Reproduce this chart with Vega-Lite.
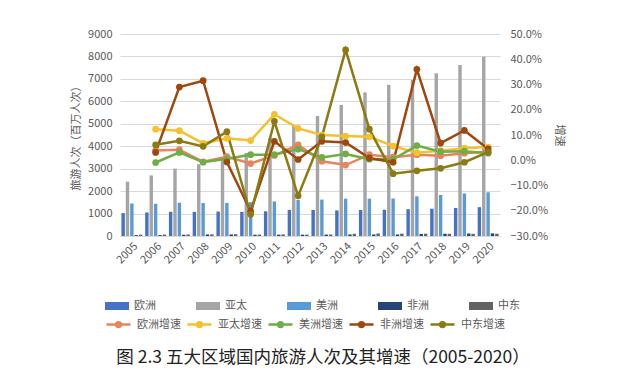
{
  "$schema": "https://vega.github.io/schema/vega-lite/v6.json",
  "width": 380,
  "height": 202,
  "autosize": {"type": "none"},
  "padding": {"left": 120, "top": 34, "right": 140, "bottom": 153},
  "background": "white",
  "config": {
    "font": "Noto Sans CJK SC",
    "view": {"stroke": null},
    "axis": {
      "labelColor": "#595959",
      "titleColor": "#595959",
      "labelFontSize": 11,
      "titleFontSize": 11,
      "titleFontWeight": "normal",
      "ticks": false,
      "domain": false,
      "gridColor": "#D9D9D9"
    },
    "legend": {
      "labelColor": "#595959",
      "labelFontSize": 11
    }
  },
  "title": {
    "text": "图 2.3  五大区域国内旅游人次及其增速（2005-2020）",
    "orient": "bottom",
    "anchor": "middle",
    "fontSize": 17.5,
    "fontWeight": "normal",
    "color": "#222222",
    "offset": 17,
    "dx": 13
  },
  "datasets": {
    "bars": [
      {"year": "2005", "region": "欧洲", "value": 1020}, {"year": "2005", "region": "亚太", "value": 2420}, {"year": "2005", "region": "美洲", "value": 1450}, {"year": "2005", "region": "非洲", "value": 40}, {"year": "2005", "region": "中东", "value": 60},
      {"year": "2006", "region": "欧洲", "value": 1050}, {"year": "2006", "region": "亚太", "value": 2700}, {"year": "2006", "region": "美洲", "value": 1436}, {"year": "2006", "region": "非洲", "value": 41}, {"year": "2006", "region": "中东", "value": 64},
      {"year": "2007", "region": "欧洲", "value": 1080}, {"year": "2007", "region": "亚太", "value": 3000}, {"year": "2007", "region": "美洲", "value": 1480}, {"year": "2007", "region": "非洲", "value": 53}, {"year": "2007", "region": "中东", "value": 69},
      {"year": "2008", "region": "欧洲", "value": 1075}, {"year": "2008", "region": "亚太", "value": 3200}, {"year": "2008", "region": "美洲", "value": 1468}, {"year": "2008", "region": "非洲", "value": 70}, {"year": "2008", "region": "中东", "value": 72},
      {"year": "2009", "region": "欧洲", "value": 1090}, {"year": "2009", "region": "亚太", "value": 3450}, {"year": "2009", "region": "美洲", "value": 1474}, {"year": "2009", "region": "非洲", "value": 70}, {"year": "2009", "region": "中东", "value": 80},
      {"year": "2010", "region": "欧洲", "value": 1077}, {"year": "2010", "region": "亚太", "value": 3700}, {"year": "2010", "region": "美洲", "value": 1507}, {"year": "2010", "region": "非洲", "value": 56}, {"year": "2010", "region": "中东", "value": 63},
      {"year": "2011", "region": "欧洲", "value": 1100}, {"year": "2011", "region": "亚太", "value": 4370}, {"year": "2011", "region": "美洲", "value": 1540}, {"year": "2011", "region": "非洲", "value": 60}, {"year": "2011", "region": "中东", "value": 73},
      {"year": "2012", "region": "欧洲", "value": 1165}, {"year": "2012", "region": "亚太", "value": 4900}, {"year": "2012", "region": "美洲", "value": 1606}, {"year": "2012", "region": "非洲", "value": 60}, {"year": "2012", "region": "中东", "value": 63},
      {"year": "2013", "region": "欧洲", "value": 1160}, {"year": "2013", "region": "亚太", "value": 5350}, {"year": "2013", "region": "美洲", "value": 1622}, {"year": "2013", "region": "非洲", "value": 64}, {"year": "2013", "region": "中东", "value": 69},
      {"year": "2014", "region": "欧洲", "value": 1140}, {"year": "2014", "region": "亚太", "value": 5840}, {"year": "2014", "region": "美洲", "value": 1663}, {"year": "2014", "region": "非洲", "value": 69}, {"year": "2014", "region": "中东", "value": 99},
      {"year": "2015", "region": "欧洲", "value": 1160}, {"year": "2015", "region": "亚太", "value": 6400}, {"year": "2015", "region": "美洲", "value": 1664}, {"year": "2015", "region": "非洲", "value": 69}, {"year": "2015", "region": "中东", "value": 111},
      {"year": "2016", "region": "欧洲", "value": 1170}, {"year": "2016", "region": "亚太", "value": 6730}, {"year": "2016", "region": "美洲", "value": 1671}, {"year": "2016", "region": "非洲", "value": 69}, {"year": "2016", "region": "中东", "value": 105},
      {"year": "2017", "region": "欧洲", "value": 1195}, {"year": "2017", "region": "亚太", "value": 6950}, {"year": "2017", "region": "美洲", "value": 1768}, {"year": "2017", "region": "非洲", "value": 93}, {"year": "2017", "region": "中东", "value": 101},
      {"year": "2018", "region": "欧洲", "value": 1215}, {"year": "2018", "region": "亚太", "value": 7250}, {"year": "2018", "region": "美洲", "value": 1828}, {"year": "2018", "region": "非洲", "value": 100}, {"year": "2018", "region": "中东", "value": 98},
      {"year": "2019", "region": "欧洲", "value": 1250}, {"year": "2019", "region": "亚太", "value": 7620}, {"year": "2019", "region": "美洲", "value": 1894}, {"year": "2019", "region": "非洲", "value": 111}, {"year": "2019", "region": "中东", "value": 97},
      {"year": "2020", "region": "欧洲", "value": 1285}, {"year": "2020", "region": "亚太", "value": 7990}, {"year": "2020", "region": "美洲", "value": 1947}, {"year": "2020", "region": "非洲", "value": 116}, {"year": "2020", "region": "中东", "value": 100}
    ],
    "growth": [
      {"year": "2006", "series": "欧洲增速", "rate": 0.039}, {"year": "2006", "series": "亚太增速", "rate": 0.123}, {"year": "2006", "series": "美洲增速", "rate": -0.009}, {"year": "2006", "series": "非洲增速", "rate": 0.031}, {"year": "2006", "series": "中东增速", "rate": 0.061},
      {"year": "2007", "series": "欧洲增速", "rate": 0.042}, {"year": "2007", "series": "亚太增速", "rate": 0.117}, {"year": "2007", "series": "美洲增速", "rate": 0.031}, {"year": "2007", "series": "非洲增速", "rate": 0.29}, {"year": "2007", "series": "中东增速", "rate": 0.077},
      {"year": "2008", "series": "欧洲增速", "rate": -0.006}, {"year": "2008", "series": "亚太增速", "rate": 0.067}, {"year": "2008", "series": "美洲增速", "rate": -0.008}, {"year": "2008", "series": "非洲增速", "rate": 0.315}, {"year": "2008", "series": "中东增速", "rate": 0.055},
      {"year": "2009", "series": "欧洲增速", "rate": 0.014}, {"year": "2009", "series": "亚太增速", "rate": 0.087}, {"year": "2009", "series": "美洲增速", "rate": 0.006}, {"year": "2009", "series": "非洲增速", "rate": -0.007}, {"year": "2009", "series": "中东增速", "rate": 0.113},
      {"year": "2010", "series": "欧洲增速", "rate": -0.013}, {"year": "2010", "series": "亚太增速", "rate": 0.078}, {"year": "2010", "series": "美洲增速", "rate": 0.022}, {"year": "2010", "series": "非洲增速", "rate": -0.202}, {"year": "2010", "series": "中东增速", "rate": -0.214},
      {"year": "2011", "series": "欧洲增速", "rate": 0.019}, {"year": "2011", "series": "亚太增速", "rate": 0.182}, {"year": "2011", "series": "美洲增速", "rate": 0.022}, {"year": "2011", "series": "非洲增速", "rate": 0.075}, {"year": "2011", "series": "中东增速", "rate": 0.154},
      {"year": "2012", "series": "欧洲增速", "rate": 0.061}, {"year": "2012", "series": "亚太增速", "rate": 0.126}, {"year": "2012", "series": "美洲增速", "rate": 0.044}, {"year": "2012", "series": "非洲增速", "rate": 0.003}, {"year": "2012", "series": "中东增速", "rate": -0.141},
      {"year": "2013", "series": "欧洲增速", "rate": -0.004}, {"year": "2013", "series": "亚太增速", "rate": 0.1}, {"year": "2013", "series": "美洲增速", "rate": 0.011}, {"year": "2013", "series": "非洲增速", "rate": 0.075}, {"year": "2013", "series": "中东增速", "rate": 0.093},
      {"year": "2014", "series": "欧洲增速", "rate": -0.019}, {"year": "2014", "series": "亚太增速", "rate": 0.096}, {"year": "2014", "series": "美洲增速", "rate": 0.025}, {"year": "2014", "series": "非洲增速", "rate": 0.07}, {"year": "2014", "series": "中东增速", "rate": 0.437},
      {"year": "2015", "series": "欧洲增速", "rate": 0.022}, {"year": "2015", "series": "亚太增速", "rate": 0.093}, {"year": "2015", "series": "美洲增速", "rate": 0.004}, {"year": "2015", "series": "非洲增速", "rate": 0.009}, {"year": "2015", "series": "中东增速", "rate": 0.123},
      {"year": "2016", "series": "欧洲增速", "rate": 0.012}, {"year": "2016", "series": "亚太增速", "rate": 0.056}, {"year": "2016", "series": "美洲增速", "rate": 0.004}, {"year": "2016", "series": "非洲增速", "rate": -0.008}, {"year": "2016", "series": "中东增速", "rate": -0.053},
      {"year": "2017", "series": "欧洲增速", "rate": 0.022}, {"year": "2017", "series": "亚太增速", "rate": 0.03}, {"year": "2017", "series": "美洲增速", "rate": 0.058}, {"year": "2017", "series": "非洲增速", "rate": 0.36}, {"year": "2017", "series": "中东增速", "rate": -0.042},
      {"year": "2018", "series": "欧洲增速", "rate": 0.018}, {"year": "2018", "series": "亚太增速", "rate": 0.038}, {"year": "2018", "series": "美洲增速", "rate": 0.034}, {"year": "2018", "series": "非洲增速", "rate": 0.068}, {"year": "2018", "series": "中东增速", "rate": -0.032},
      {"year": "2019", "series": "欧洲增速", "rate": 0.028}, {"year": "2019", "series": "亚太增速", "rate": 0.048}, {"year": "2019", "series": "美洲增速", "rate": 0.036}, {"year": "2019", "series": "非洲增速", "rate": 0.118}, {"year": "2019", "series": "中东增速", "rate": -0.008},
      {"year": "2020", "series": "欧洲增速", "rate": 0.035}, {"year": "2020", "series": "亚太增速", "rate": 0.052}, {"year": "2020", "series": "美洲增速", "rate": 0.028}, {"year": "2020", "series": "非洲增速", "rate": 0.045}, {"year": "2020", "series": "中东增速", "rate": 0.032}
    ]
  },
  "layer": [
    {
      "data": {"name": "bars"},
      "mark": {"type": "bar"},
      "encoding": {
        "x": {
          "field": "year", "type": "ordinal",
          "scale": {"paddingInner": 0.12, "paddingOuter": 0.06},
          "axis": {"title": null, "labelAngle": -45, "domain": true, "domainColor": "#D9D9D9", "labelPadding": 4}
        },
        "xOffset": {
          "field": "region", "type": "nominal",
          "sort": ["欧洲", "亚太", "美洲", "非洲", "中东"],
          "scale": {"paddingInner": 0.22}
        },
        "y": {
          "field": "value", "type": "quantitative",
          "scale": {"domain": [0, 9000], "nice": false},
          "axis": {
            "title": "旅游人次（百万人次）",
            "format": "d",
            "values": [0, 1000, 2000, 3000, 4000, 5000, 6000, 7000, 8000, 9000],
            "grid": true,
            "labelPadding": 8,
            "titlePadding": 6
          }
        },
        "color": {
          "field": "region", "type": "nominal",
          "sort": ["欧洲", "亚太", "美洲", "非洲", "中东"],
          "scale": {
            "domain": ["欧洲", "亚太", "美洲", "非洲", "中东"],
            "range": ["#4472C4", "#A5A5A5", "#5B9BD5", "#264478", "#636363"]
          },
          "legend": {
            "title": null,
            "orient": "none",
            "legendX": -11,
            "legendY": 264,
            "direction": "horizontal",
            "columns": 5,
            "symbolType": "M-1.5,-0.5H1.5V0.5H-1.5Z",
            "symbolSize": 256,
            "symbolStrokeWidth": 0,
            "labelOffset": 9,
            "columnPadding": 40
          }
        }
      }
    },
    {
      "data": {"name": "growth"},
      "encoding": {
        "x": {"field": "year", "type": "ordinal"},
        "y": {
          "field": "rate", "type": "quantitative",
          "scale": {"domain": [-0.3, 0.5], "nice": false},
          "axis": {
            "orient": "right",
            "title": "增速",
            "format": ".1%",
            "values": [-0.3, -0.2, -0.1, 0, 0.1, 0.2, 0.3, 0.4, 0.5],
            "grid": false,
            "labelPadding": 10,
            "titlePadding": 6
          }
        },
        "color": {
          "field": "series", "type": "nominal",
          "scale": {
            "domain": ["欧洲增速", "亚太增速", "美洲增速", "非洲增速", "中东增速"],
            "range": ["#E8845A", "#F5C12E", "#6FAD47", "#9E480E", "#8C7A12"]
          },
          "legend": {
            "title": null,
            "orient": "none",
            "legendX": -11,
            "legendY": 281,
            "direction": "horizontal",
            "columns": 5,
            "symbolType": "M-1.5,0H1.5M0.3,0A0.3,0.3 0 1,1 -0.3,0A0.3,0.3 0 1,1 0.3,0",
            "symbolSize": 256,
            "symbolStrokeWidth": 2.5,
            "labelOffset": 9,
            "columnPadding": 1
          }
        }
      },
      "layer": [
        {"mark": {"type": "line", "strokeWidth": 2.5}},
        {"mark": {"type": "point", "filled": true, "size": 45, "opacity": 1}}
      ]
    }
  ],
  "resolve": {"scale": {"y": "independent", "color": "independent"}}
}
